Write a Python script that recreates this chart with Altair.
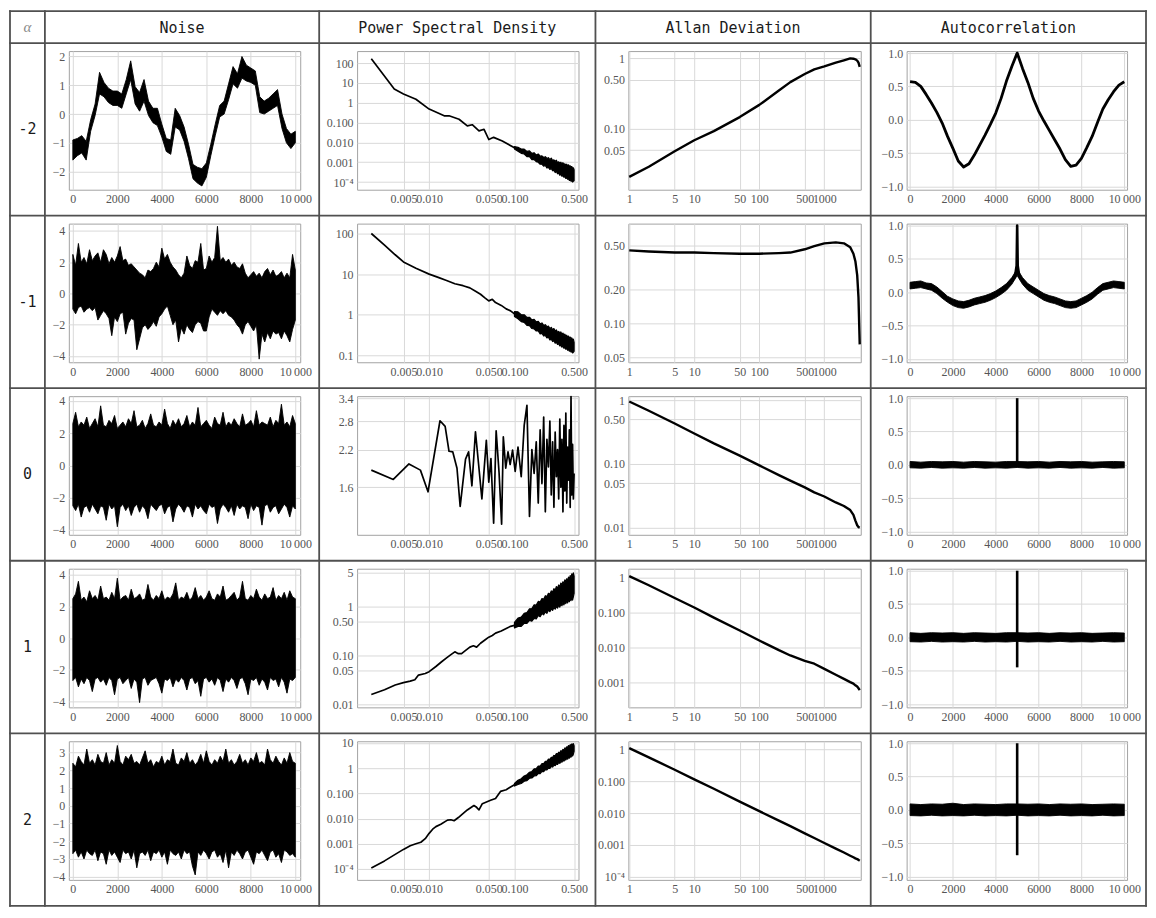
import altair as alt
import pandas as pd

# ======================= DATA =======================
# ---- Noise: min / max envelope of the dense trace ----
noise_t1 = list(range(0, 10001, 200))
noise1_hi = [-0.9, -0.85, -0.75, -0.95, -0.2, 0.35, 1.45, 1.1, 0.9, 0.8, 0.8,
             0.7, 1.2, 1.85, 0.95, 0.75, 1.2, 0.45, 0.2, 0.2, -0.35,
             -0.85, -0.9, 0.2, -0.05, -0.45, -1.05, -1.75, -1.85, -1.9, -1.7,
             -1.05, -0.35, 0.3, 0.45, 1.05, 1.65, 1.4, 2.0, 1.7, 1.6,
             1.5, 0.6, 0.45, 0.55, 0.7, 0.85, 0.0, -0.5, -0.7, -0.6]
noise1_lo = [-1.6, -1.45, -1.35, -1.6, -0.6, -0.05, 0.7, 0.6, 0.4, 0.3, 0.3,
             0.2, 0.7, 1.2, 0.35, 0.1, 0.45, -0.05, -0.3, -0.4, -0.8,
             -1.3, -1.4, -0.45, -0.55, -0.95, -1.55, -2.25, -2.4, -2.5, -2.2,
             -1.45, -0.75, -0.1, 0.0, 0.5, 1.05, 0.9, 1.25, 1.15, 1.1,
             1.0, 0.05, 0.0, 0.1, 0.2, 0.3, -0.5, -1.0, -1.2, -1.0]
noise_t = list(range(0, 10001, 125))
noise2_hi = [2.5, 1.8, 3.2, 2.0, 2.3, 1.9, 2.8, 2.1, 2.4, 2.6,
             2.0, 2.8, 2.5, 1.9, 2.3, 2.0, 2.4, 3.0, 2.1, 2.2,
             1.8, 1.9, 1.7, 1.5, 1.3, 1.2, 1.0, 1.5, 1.4, 1.6,
             2.0, 1.7, 2.9, 2.2, 2.5, 2.0, 1.7, 1.5, 1.2, 1.0,
             1.3, 2.4, 1.8, 1.6, 2.1, 2.0, 3.2, 1.5, 1.6, 2.4,
             2.0, 2.3, 4.3, 2.1, 2.3, 2.0, 2.2, 1.8, 2.0, 1.7,
             1.6, 1.9, 1.3, 1.0, 1.2, 1.4, 1.1, 1.3, 1.0, 1.4,
             1.6, 1.2, 1.5, 1.1, 1.2, 1.4, 1.0, 1.3, 1.0, 2.5, 1.5]
noise2_lo = [-1.0, -1.3, -0.9, -0.8, -1.2, -1.0, -0.9, -1.1, -0.9, -1.7,
             -1.4, -1.1, -1.3, -1.6, -2.7, -1.5, -1.8, -1.3, -1.2, -2.6,
             -1.9, -1.6, -1.7, -3.6, -2.9, -2.2, -2.0, -2.3, -2.1, -1.8,
             -2.1, -1.5, -1.3, -1.0, -0.8, -1.4, -2.0, -1.7, -3.1, -2.2,
             -2.6, -2.0, -2.3, -2.5, -2.0, -1.8, -1.9, -2.4, -2.4, -1.5,
             -1.0, -1.2, -1.4, -1.1, -1.3, -1.1, -1.4, -1.5, -1.7, -2.0,
             -2.2, -2.6, -2.0, -1.8, -2.1, -2.4, -2.0, -4.2, -2.6, -3.1,
             -2.5, -2.9, -2.4, -2.6, -2.5, -2.9, -2.4, -2.7, -3.1, -2.3, -1.7]
noise3_hi = [2.6, 3.3, 2.4, 2.7, 2.5, 3.0, 2.3, 2.6, 2.9, 2.4,
             3.7, 2.5, 2.4, 2.8, 2.6, 3.1, 2.3, 2.5, 2.7, 2.4,
             2.9, 2.6, 3.4, 2.4, 2.5, 2.8, 2.3, 2.6, 3.2, 2.5,
             2.4, 2.7, 2.5, 3.5, 2.6, 2.3, 2.8, 2.5, 2.9, 2.4,
             2.6, 3.1, 2.4, 2.7, 2.5, 3.6, 2.4, 2.6, 2.8, 2.5,
             2.3, 3.0, 2.6, 2.5, 3.3, 2.4, 2.7, 2.5, 2.9, 2.6,
             2.4, 3.2, 2.5, 2.6, 2.8, 2.4, 3.4, 2.5, 2.7, 2.6,
             2.5, 3.0, 2.4, 2.8, 2.6, 3.8, 2.5, 2.7, 2.4, 3.1, 2.6]
noise3_lo = [-2.5, -2.8, -2.4, -3.2, -2.6, -2.5, -2.9, -2.4, -2.7, -3.0,
             -2.5, -2.6, -3.4, -2.4, -2.7, -2.5, -3.8, -2.6, -2.4, -2.8,
             -2.5, -3.1, -2.6, -2.4, -2.9, -2.5, -2.7, -3.3, -2.4, -2.6,
             -2.8, -2.5, -2.4, -3.0, -2.6, -2.5, -3.5, -2.7, -2.4, -2.6,
             -2.9, -2.5, -2.6, -3.2, -2.4, -2.7, -2.5, -2.8, -3.0, -2.4,
             -2.6, -2.5, -3.6, -2.7, -2.4, -2.6, -2.9, -2.5, -3.1, -2.4,
             -2.7, -2.5, -2.6, -3.3, -2.4, -2.8, -2.5, -2.6, -3.7, -2.5,
             -2.4, -2.9, -2.6, -2.5, -3.0, -2.7, -2.4, -2.6, -3.2, -2.5, -2.7]
noise4_hi = [2.5, 2.8, 3.6, 2.4, 2.6, 2.3, 3.0, 2.5, 2.7, 2.4,
             3.3, 2.5, 2.6, 2.4, 2.9, 2.5, 3.8, 2.4, 2.6, 2.7,
             2.4, 3.1, 2.5, 2.6, 2.8, 2.4, 2.5, 3.4, 2.6, 2.4,
             2.7, 2.5, 3.0, 2.4, 2.6, 2.5, 2.8, 3.5, 2.4, 2.6,
             2.5, 2.9, 2.4, 2.6, 3.2, 2.5, 2.7, 2.4, 2.6, 3.0,
             2.5, 2.4, 2.8, 2.6, 3.3, 2.4, 2.5, 2.7, 2.9, 2.4,
             2.6, 3.6, 2.5, 2.4, 2.7, 2.5, 3.1, 2.6, 2.4, 2.8,
             2.5, 2.6, 3.2, 2.4, 2.7, 2.5, 2.9, 2.4, 3.0, 2.6, 2.5]
noise4_lo = [-2.7, -2.5, -3.1, -2.6, -2.9, -2.5, -2.7, -3.4, -2.6, -2.5,
             -2.8, -2.6, -3.0, -2.5, -2.7, -3.6, -2.6, -2.5, -2.9, -2.7,
             -2.5, -3.2, -2.6, -2.8, -4.1, -2.6, -2.5, -3.0, -2.7, -2.6,
             -2.5, -2.9, -3.5, -2.6, -2.7, -2.5, -3.1, -2.6, -2.8, -2.5,
             -2.7, -3.3, -2.6, -2.5, -2.9, -2.7, -3.7, -2.6, -2.5, -2.8,
             -2.6, -3.0, -2.5, -2.7, -3.4, -2.6, -2.8, -2.5, -2.7, -3.2,
             -2.6, -2.5, -2.9, -3.6, -2.6, -2.7, -2.5, -3.0, -2.6, -2.8,
             -3.3, -2.5, -2.7, -2.6, -3.1, -2.5, -2.8, -3.5, -2.6, -2.7, -2.5]
noise5_hi = [2.4, 2.2, 2.8, 2.5, 2.3, 3.2, 2.4, 2.6, 2.3, 2.9,
             2.5, 2.4, 3.0, 2.3, 2.6, 2.4, 3.4, 2.5, 2.3, 2.8,
             2.6, 2.9, 2.4, 2.5, 2.3, 2.7, 3.1, 2.4, 2.6, 2.2,
             2.5, 2.4, 2.8, 2.3, 2.6, 2.5, 3.2, 2.4, 2.3, 2.7,
             2.5, 3.0, 2.4, 2.6, 2.3, 2.5, 2.9, 2.4, 3.1, 2.5,
             2.3, 2.6, 2.4, 2.8, 2.5, 3.2, 2.4, 2.6, 2.3, 2.5,
             2.9, 2.4, 2.6, 2.3, 2.7, 2.5, 3.0, 2.4, 2.5, 2.3,
             3.2, 2.6, 2.4, 2.8, 2.5, 2.3, 2.7, 2.4, 3.0, 2.5, 2.4]
noise5_lo = [-2.7, -2.5, -2.9, -2.6, -3.0, -2.5, -2.7, -2.8, -2.5, -3.1,
             -2.6, -2.7, -3.3, -2.5, -2.8, -2.6, -2.9, -3.2, -2.5, -2.7,
             -2.6, -3.0, -2.5, -3.5, -2.7, -2.6, -2.8, -2.5, -3.1, -2.6,
             -2.7, -2.5, -2.9, -2.6, -3.3, -2.5, -2.7, -2.8, -2.6, -3.0,
             -2.5, -2.7, -2.6, -3.4, -3.9, -2.6, -2.8, -2.5, -2.7, -3.0,
             -2.6, -2.5, -2.9, -2.7, -3.2, -2.5, -3.5, -2.6, -2.8, -2.5,
             -2.7, -3.0, -2.6, -2.5, -2.9, -3.3, -2.6, -2.7, -2.5, -2.8,
             -3.1, -2.6, -2.5, -2.9, -2.7, -3.2, -2.5, -2.6, -2.8, -2.7, -2.9]
noise_xticks = [0, 2000, 4000, 6000, 8000, 10000]
noise_xlabels = ["0", "2000", "4000", "6000", "8000", "10\u2009000"]

# ---- Power spectral density ----
# low-frequency curves
psd1_f = [0.0021, 0.0039, 0.005, 0.007, 0.01, 0.015, 0.0171, 0.0224, 0.028, 0.032,
          0.0384, 0.044, 0.05, 0.057, 0.072, 0.1]
psd1_v = [166, 5.0, 2.8, 1.5, 0.48, 0.22, 0.22, 0.148, 0.068, 0.078,
          0.038, 0.046, 0.014, 0.018, 0.0117, 0.0054]
psd2_f = [0.0021, 0.003, 0.004, 0.005, 0.007, 0.01, 0.013, 0.016, 0.02, 0.025, 0.03,
          0.035, 0.04, 0.045, 0.05, 0.055, 0.06, 0.07, 0.08, 0.09, 0.1]
psd2_v = [100, 52, 30, 20, 14, 10, 8.2, 7.0, 5.8, 5.2, 4.6,
          3.8, 3.2, 2.6, 2.2, 2.4, 2.0, 1.7, 1.4, 1.25, 1.05]
psd3_f = [0.0021, 0.0038, 0.0058, 0.0079, 0.0097, 0.0134, 0.0154, 0.0171, 0.0189, 0.0212,
          0.0231, 0.0267, 0.029, 0.0317, 0.0349, 0.038, 0.0415, 0.0468, 0.05, 0.053,
          0.057, 0.061, 0.066, 0.0707, 0.074, 0.079, 0.084, 0.089, 0.095, 0.102,
          0.11, 0.12, 0.13, 0.14, 0.15, 0.16, 0.17, 0.18, 0.19, 0.20,
          0.21, 0.22, 0.23, 0.24, 0.25, 0.26, 0.27, 0.28, 0.29, 0.30,
          0.31, 0.32, 0.33, 0.34, 0.35, 0.36, 0.37, 0.38, 0.39, 0.40,
          0.41, 0.42, 0.43, 0.44, 0.45, 0.46, 0.47, 0.48, 0.49, 0.50]
psd3_v = [1.85, 1.71, 1.95, 1.85, 1.54, 2.81, 2.68, 2.17, 2.16, 1.88,
          1.36, 2.03, 2.16, 1.62, 2.56, 1.94, 1.45, 2.38, 1.67, 2.04,
          1.18, 2.58, 1.81, 1.17, 2.45, 1.88, 2.16, 1.94, 2.19, 1.83,
          2.25, 1.75, 2.7, 3.2, 1.25, 2.2, 1.8, 2.35, 1.4, 2.6,
          1.65, 2.9, 1.3, 2.4, 1.9, 2.8, 1.5, 2.35, 1.35, 2.55,
          1.75, 2.2, 1.45, 2.85, 1.6, 2.4, 1.3, 2.7, 1.55, 3.0,
          1.4, 2.25, 1.7, 2.6, 1.35, 3.45, 1.5, 2.3, 1.45, 1.8]
psd4_f = [0.0021, 0.003, 0.004, 0.005, 0.006, 0.0068, 0.0075, 0.009, 0.01, 0.012,
          0.014, 0.016, 0.018, 0.02, 0.022, 0.024, 0.027, 0.03, 0.033, 0.036,
          0.04, 0.045, 0.05, 0.055, 0.06, 0.07, 0.08, 0.09, 0.1]
psd4_v = [0.016, 0.02, 0.025, 0.028, 0.03, 0.032, 0.04, 0.043, 0.047, 0.06,
          0.075, 0.09, 0.105, 0.12, 0.11, 0.11, 0.13, 0.15, 0.16, 0.15,
          0.18, 0.21, 0.24, 0.26, 0.29, 0.32, 0.36, 0.4, 0.42]
psd5_f = [0.0021, 0.003, 0.004, 0.005, 0.006, 0.007, 0.008, 0.009, 0.01, 0.011,
          0.012, 0.0137, 0.0164, 0.018, 0.0196, 0.022, 0.0245, 0.028, 0.0335, 0.036,
          0.0384, 0.042, 0.0525, 0.06, 0.0686, 0.08, 0.09, 0.1]
psd5_v = [1.1e-4, 2.1e-4, 3.8e-4, 6e-4, 8.4e-4, 1.0e-3, 1.15e-3, 1.6e-3, 2.6e-3, 3.8e-3,
          4.8e-3, 6e-3, 8.7e-3, 9e-3, 8.2e-3, 0.011, 0.015, 0.022, 0.033, 0.028,
          0.022, 0.039, 0.053, 0.063, 0.12, 0.14, 0.18, 0.22]
# high-frequency scatter band (min / max), 0.10 ... 0.50
band_f = [0.10, 0.11, 0.12, 0.13, 0.14, 0.15, 0.16, 0.17, 0.18, 0.19, 0.20,
          0.21, 0.22, 0.23, 0.24, 0.25, 0.26, 0.27, 0.28, 0.29, 0.30,
          0.31, 0.32, 0.33, 0.34, 0.35, 0.36, 0.37, 0.38, 0.39, 0.40,
          0.41, 0.42, 0.43, 0.44, 0.45, 0.46, 0.47, 0.48, 0.49, 0.50]
psd1_hi = [0.0062, 0.0056, 0.0046, 0.0046, 0.0035, 0.0037, 0.0028, 0.003, 0.0023, 0.0026, 0.002,
           0.0021, 0.00174, 0.0019, 0.00155, 0.0017, 0.00135, 0.0016, 0.00123, 0.00132, 0.0011,
           0.00126, 0.00093, 0.00105, 0.00089, 0.001, 0.00081, 0.00095, 0.00076, 0.00083, 0.00072,
           0.00079, 0.00066, 0.00074, 0.0006, 0.00066, 0.00058, 0.0006, 0.0005, 0.00052, 0.00042]
psd1_lo = [0.0047, 0.0036, 0.0028, 0.0026, 0.0019, 0.0019, 0.00135, 0.00135, 0.00107, 0.001, 0.00079,
           0.00079, 0.00063, 0.00068, 0.00051, 0.00055, 0.00043, 0.00048, 0.00037, 0.00039, 0.0003,
           0.00034, 0.00026, 0.00028, 0.00022, 0.00025, 0.000195, 0.00021, 0.000174, 0.00019, 0.000151,
           0.000166, 0.000138, 0.000148, 0.00012, 0.000132, 0.00011, 0.000117, 0.0001, 0.00011, 0.000117]
psd2_hi = [1.2, 1.18, 1.0, 1.0, 0.86, 0.87, 0.75, 0.77, 0.67, 0.69, 0.6,
           0.63, 0.55, 0.57, 0.51, 0.53, 0.46, 0.49, 0.43, 0.46, 0.40,
           0.425, 0.37, 0.39, 0.35, 0.38, 0.33, 0.355, 0.31, 0.334, 0.296,
           0.315, 0.28, 0.3, 0.265, 0.284, 0.252, 0.27, 0.24, 0.252, 0.21]
psd2_lo = [0.91, 0.8, 0.68, 0.65, 0.55, 0.54, 0.46, 0.45, 0.40, 0.40, 0.34,
           0.35, 0.30, 0.31, 0.27, 0.28, 0.24, 0.25, 0.22, 0.23, 0.20,
           0.21, 0.187, 0.193, 0.171, 0.181, 0.16, 0.17, 0.15, 0.156, 0.142,
           0.148, 0.134, 0.14, 0.127, 0.133, 0.121, 0.126, 0.115, 0.12, 0.126]
psd4_hi = [0.48, 0.59, 0.62, 0.74, 0.77, 0.92, 0.93, 1.11, 1.09, 1.3, 1.26,
           1.49, 1.44, 1.7, 1.63, 1.91, 1.82, 2.14, 2.04, 2.38, 2.2,
           2.63, 2.43, 2.83, 2.6, 3.1, 2.85, 3.3, 3.04, 3.6, 3.3,
           3.8, 3.5, 4.1, 3.7, 4.4, 4.0, 4.8, 4.3, 5.0, 4.3]
psd4_lo = [0.37, 0.40, 0.40, 0.46, 0.46, 0.53, 0.51, 0.58, 0.57, 0.67, 0.63,
           0.73, 0.69, 0.79, 0.74, 0.86, 0.8, 0.91, 0.85, 0.97, 0.9,
           1.02, 0.95, 1.1, 0.99, 1.15, 1.06, 1.23, 1.1, 1.28, 1.17,
           1.35, 1.21, 1.43, 1.28, 1.47, 1.35, 1.55, 1.38, 1.62, 1.9]
psd5_hi = [0.25, 0.33, 0.38, 0.49, 0.55, 0.69, 0.74, 0.94, 0.96, 1.21, 1.22,
           1.51, 1.52, 1.87, 1.86, 2.27, 2.24, 2.71, 2.67, 3.2, 3.08,
           3.8, 3.6, 4.3, 4.06, 4.95, 4.68, 5.56, 5.24, 6.34, 5.94,
           7.03, 6.58, 7.9, 7.2, 8.5, 7.9, 9.1, 8.45, 9.4, 7.8]
psd5_lo = [0.195, 0.226, 0.247, 0.305, 0.32, 0.4, 0.41, 0.49, 0.5, 0.62, 0.61,
           0.74, 0.73, 0.87, 0.85, 1.01, 0.98, 1.16, 1.11, 1.31, 1.25,
           1.47, 1.4, 1.67, 1.55, 1.84, 1.74, 2.07, 1.9, 2.25, 2.11,
           2.49, 2.28, 2.74, 2.5, 2.94, 2.75, 3.2, 3.07, 3.6, 4.7]
psd_xticks = [0.005, 0.01, 0.05, 0.1, 0.5]
psd_xlabels = ["0.005", "0.010", "0.050", "0.100", "0.500"]

# ---- Allan deviation ----
allan_tau = [1, 2, 5, 10, 20, 50, 100, 200, 300, 500,
             700, 1000, 1500, 2000, 2500, 2800, 3000, 3200, 3350, 3500]
allan1 = [0.0208, 0.029, 0.048, 0.069, 0.093, 0.147, 0.219, 0.35, 0.46, 0.6,
          0.7, 0.77, 0.87, 0.94, 1.0, 0.99, 0.97, 0.93, 0.87, 0.76]
allan2 = [0.45, 0.44, 0.43, 0.43, 0.425, 0.42, 0.42, 0.425, 0.43, 0.46,
          0.49, 0.52, 0.53, 0.52, 0.48, 0.42, 0.36, 0.27, 0.17, 0.065]
allan3 = [0.95, 0.68, 0.43, 0.30, 0.21, 0.135, 0.095, 0.067, 0.055, 0.043,
          0.036, 0.031, 0.025, 0.022, 0.019, 0.016, 0.013, 0.011, 0.0103, 0.0101]
allan4 = [1.1, 0.6, 0.26, 0.14, 0.072, 0.031, 0.016, 0.0085, 0.006, 0.0042,
          0.0035, 0.0025, 0.0017, 0.0013, 0.00105, 0.00095, 0.00085, 0.00078, 0.0007, 0.00062]
allan5 = [1.1, 0.56, 0.23, 0.115, 0.058, 0.023, 0.0115, 0.0058, 0.0039, 0.0023,
          0.00165, 0.00115, 0.00077, 0.00058, 0.00046, 0.00041, 0.00038, 0.00036, 0.00034, 0.00032]
allan_xticks = [1, 5, 10, 50, 100, 500, 1000]
allan_xlabels = ["1", "5", "10", "50", "100", "500", "1000"]

# ---- Autocorrelation ----
acf_t = list(range(0, 10001, 250))
acf1 = [0.57, 0.56, 0.5, 0.38, 0.25, 0.11, -0.05, -0.25, -0.43, -0.62, -0.71,
        -0.66, -0.53, -0.38, -0.23, -0.07, 0.1, 0.32, 0.58, 0.8, 1.0,
        0.77, 0.56, 0.32, 0.13, -0.02, -0.16, -0.3, -0.44, -0.6, -0.7,
        -0.68, -0.58, -0.42, -0.25, -0.04, 0.16, 0.3, 0.42, 0.52, 0.57]
acf2_hi = [0.15, 0.16, 0.17, 0.14, 0.13, 0.08, 0.01, -0.06, -0.10, -0.13, -0.14,
           -0.12, -0.09, -0.07, -0.05, -0.02, 0.02, 0.07, 0.13, 0.22, 0.35,
           0.22, 0.13, 0.08, 0.03, -0.02, -0.05, -0.07, -0.10, -0.13, -0.14,
           -0.13, -0.09, -0.05, 0.0, 0.07, 0.13, 0.15, 0.17, 0.16, 0.15]
acf2_lo = [0.05, 0.06, 0.07, 0.05, 0.03, -0.02, -0.09, -0.15, -0.20, -0.23, -0.24,
           -0.22, -0.19, -0.17, -0.15, -0.12, -0.08, -0.03, 0.03, 0.12, 0.25,
           0.12, 0.03, -0.02, -0.07, -0.12, -0.15, -0.17, -0.20, -0.23, -0.24,
           -0.23, -0.19, -0.15, -0.10, -0.03, 0.03, 0.05, 0.07, 0.06, 0.05]
acf2_spike_t = [4750, 4900, 4975, 5000, 5025, 5100, 5250]
acf2_spike = [0.17, 0.24, 0.4, 1.0, 0.4, 0.24, 0.17]
acfw_t = list(range(0, 10001, 500))
acf3_hi = [0.05, 0.04, 0.05, 0.045, 0.05, 0.04, 0.05, 0.045, 0.04, 0.05, 0.05,
           0.045, 0.05, 0.04, 0.05, 0.045, 0.05, 0.04, 0.045, 0.05, 0.045]
acf3_lo = [-0.045, -0.05, -0.04, -0.05, -0.045, -0.05, -0.04, -0.05, -0.045, -0.05, -0.04,
           -0.05, -0.045, -0.05, -0.04, -0.05, -0.045, -0.05, -0.04, -0.05, -0.045]
acf4_hi = [0.07, 0.06, 0.07, 0.065, 0.07, 0.06, 0.07, 0.065, 0.06, 0.07, 0.07,
           0.065, 0.07, 0.06, 0.07, 0.065, 0.07, 0.06, 0.065, 0.07, 0.065]
acf4_lo = [-0.065, -0.07, -0.06, -0.07, -0.065, -0.07, -0.06, -0.07, -0.065, -0.07, -0.06,
           -0.07, -0.065, -0.07, -0.06, -0.07, -0.065, -0.07, -0.06, -0.07, -0.065]
acf5_hi = [0.09, 0.08, 0.09, 0.085, 0.1, 0.08, 0.09, 0.085, 0.08, 0.09, 0.09,
           0.085, 0.09, 0.08, 0.09, 0.085, 0.09, 0.08, 0.085, 0.09, 0.085]
acf5_lo = [-0.085, -0.09, -0.08, -0.09, -0.085, -0.09, -0.08, -0.09, -0.085, -0.09, -0.08,
           -0.09, -0.085, -0.09, -0.08, -0.09, -0.085, -0.09, -0.08, -0.09, -0.085]
spike_t = [5000, 5000]
acf3_spike = [0.0, 1.0]
acf4_spike = [-0.45, 1.0]
acf5_spike = [-0.68, 1.0]
acf_xticks = [0, 2000, 4000, 6000, 8000, 10000]
acf_xlabels = ["0", "2000", "4000", "6000", "8000", "10\u2009000"]
acf_yticks = [-1.0, -0.5, 0.0, 0.5, 1.0]

# ---- table text ----
headers = ["Noise", "Power Spectral Density", "Allan Deviation", "Autocorrelation"]
alphas = ["-2", "-1", "0", "1", "2"]

# ======================= LAYOUT / STYLE =======================
TABLE_X = [0, 35, 310, 587, 863, 1139]
TABLE_Y = [0, 32, 205, 378, 551, 724, 897]
PLOT_X = [59, 348, 620, 899]
PLOT_W = [232, 222, 233, 221]
PLOT_DY = 8
PLOT_H = 139
PITCH = 173
LINE = "#505050"
FRAME = "#a3a3a3"
MONO = "DejaVu Sans Mono"

dummy = pd.DataFrame({"d": [0]})


def label_expr(vals, labels):
    expr = "''"
    for v, s in reversed(list(zip(vals, labels))):
        expr = "abs(datum.value - (%r)) <= %r ? '%s' : %s" % (v, abs(v) * 1e-6, s, expr)
    return expr


def axis(vals, labels=None, fmt=None):
    kw = dict(values=vals, title=None, grid=True, labelOverlap=False,
              labelFlush=False, labelBound=False)
    if labels is not None:
        kw["labelExpr"] = label_expr(vals, labels)
    if fmt is not None:
        kw["format"] = fmt
    return alt.Axis(**kw)


def noise_layers(t, hi, lo, ydom, yticks):
    df = pd.DataFrame({"t": t, "hi": hi, "lo": lo})
    return [alt.Chart(df).mark_area(fill="black", stroke="black", strokeWidth=0.9,
                                    strokeJoin="round").encode(
        x=alt.X("t:Q", scale=alt.Scale(domain=[-180, 10220], nice=False, zero=False),
                axis=axis(noise_xticks, noise_xlabels)),
        y=alt.Y("lo:Q", scale=alt.Scale(domain=ydom, nice=False, zero=False),
                axis=axis(yticks, fmt="d")),
        y2="hi:Q")]


def psd_layers(f, v, ydom, yticks, ylabels, hi=None, lo=None):
    xs = dict(scale=alt.Scale(type="log", domain=[0.00143, 0.563], nice=False),
              axis=axis(psd_xticks, psd_xlabels))
    ys = dict(scale=alt.Scale(type="log", domain=ydom, nice=False), axis=axis(yticks, ylabels))
    out = [alt.Chart(pd.DataFrame({"f": f, "p": v})).mark_line(
        color="black", strokeWidth=1.7, strokeJoin="round").encode(
        x=alt.X("f:Q", **xs), y=alt.Y("p:Q", **ys))]
    if hi is not None:
        out.append(alt.Chart(pd.DataFrame({"f": band_f, "hi": hi, "lo": lo})).mark_area(
            fill="black", stroke="black", strokeWidth=1.2, strokeJoin="round").encode(
            x=alt.X("f:Q", **xs), y=alt.Y("lo:Q", **ys), y2="hi:Q"))
    return out


def allan_layers(v, ydom, yticks, ylabels):
    df = pd.DataFrame({"tau": allan_tau, "a": v})
    return [alt.Chart(df).mark_line(color="black", strokeWidth=2.4, strokeJoin="round").encode(
        x=alt.X("tau:Q", scale=alt.Scale(type="log", domain=[0.97, 3630], nice=False),
                axis=axis(allan_xticks, allan_xlabels)),
        y=alt.Y("a:Q", scale=alt.Scale(type="log", domain=ydom, nice=False),
                axis=axis(yticks, ylabels)))]


ACF_X = dict(scale=alt.Scale(domain=[-160, 10130], nice=False, zero=False))
ACF_Y = dict(scale=alt.Scale(domain=[-1.05, 1.03], nice=False, zero=False))


def acf_x():
    return alt.X("t:Q", axis=axis(acf_xticks, acf_xlabels), **ACF_X)


def acf_line_layers(v):
    df = pd.DataFrame({"t": acf_t, "c": v})
    return [alt.Chart(df).mark_line(color="black", strokeWidth=2.8, strokeJoin="round").encode(
        x=acf_x(), y=alt.Y("c:Q", axis=axis(acf_yticks, fmt=".1f"), **ACF_Y))]


def acf_band_layers(t, hi, lo, st, sv):
    band = alt.Chart(pd.DataFrame({"t": t, "hi": hi, "lo": lo})).mark_area(
        fill="black", stroke="black", strokeWidth=0.9).encode(
        x=acf_x(), y=alt.Y("lo:Q", axis=axis(acf_yticks, fmt=".1f"), **ACF_Y), y2="hi:Q")
    spike = alt.Chart(pd.DataFrame({"t": st, "c": sv, "i": list(range(len(st)))})).mark_line(
        color="black", strokeWidth=2.6, strokeJoin="round").encode(
        x=acf_x(), y=alt.Y("c:Q", axis=axis(acf_yticks, fmt=".1f"), **ACF_Y), order="i:Q")
    return [band, spike]


def decor_layers():
    """Table grid and table texts, drawn from the first plot cell."""
    ox, oy = PLOT_X[0], TABLE_Y[1] + PLOT_DY
    out = []
    for gx in TABLE_X:
        out.append(alt.Chart(dummy).mark_rule(color=LINE, strokeWidth=1.8, strokeCap="square").encode(
            x=alt.value(gx - ox), y=alt.value(TABLE_Y[0] - oy), y2=alt.value(TABLE_Y[-1] - oy)))
    for gy in TABLE_Y:
        out.append(alt.Chart(dummy).mark_rule(color=LINE, strokeWidth=1.8, strokeCap="square").encode(
            y=alt.value(gy - oy), x=alt.value(TABLE_X[0] - ox), x2=alt.value(TABLE_X[-1] - ox)))
    hy = (TABLE_Y[0] + TABLE_Y[1]) / 2 - oy
    out.append(alt.Chart(dummy).mark_text(font="Liberation Serif", fontStyle="italic", fontSize=15,
                                          color="#8a8a8a", align="center", baseline="middle").encode(
        x=alt.value((TABLE_X[0] + TABLE_X[1]) / 2 - ox), y=alt.value(hy), text=alt.value("\u03b1")))
    for i, h in enumerate(headers):
        out.append(alt.Chart(dummy).mark_text(font=MONO, fontSize=15, color="#1a1a1a",
                                              align="center", baseline="middle").encode(
            x=alt.value((TABLE_X[i + 1] + TABLE_X[i + 2]) / 2 - ox), y=alt.value(hy + 1),
            text=alt.value(h)))
    for r, a in enumerate(alphas):
        out.append(alt.Chart(dummy).mark_text(font=MONO, fontSize=15, color="#1a1a1a",
                                              align="center", baseline="middle").encode(
            x=alt.value((TABLE_X[0] + TABLE_X[1]) / 2 - ox),
            y=alt.value((TABLE_Y[r + 1] + TABLE_Y[r + 2]) / 2 - oy),
            text=alt.value(a)))
    return out


SUP4 = "10\u207b\u2074"
rows = [
    [noise_layers(noise_t1, noise1_hi, noise1_lo, [-2.63, 2.19], [-2, -1, 0, 1, 2]),
     psd_layers(psd1_f, psd1_v, [4.1e-5, 407], [1e-4, 0.001, 0.01, 0.1, 1, 10, 100],
                [SUP4, "0.001", "0.010", "0.100", "1", "10", "100"], psd1_hi, psd1_lo),
     allan_layers(allan1, [0.0137, 1.27], [0.05, 0.1, 0.5, 1], ["0.05", "0.10", "0.50", "1"]),
     acf_line_layers(acf1)],
    [noise_layers(noise_t, noise2_hi, noise2_lo, [-4.4, 4.47], [-4, -2, 0, 2, 4]),
     psd_layers(psd2_f, psd2_v, [0.068, 175], [0.1, 1, 10, 100], ["0.1", "1", "10", "100"],
                psd2_hi, psd2_lo),
     allan_layers(allan2, [0.045, 0.78], [0.05, 0.1, 0.2, 0.5], ["0.05", "0.10", "0.20", "0.50"]),
     acf_band_layers(acf_t, acf2_hi, acf2_lo, acf2_spike_t, acf2_spike)],
    [noise_layers(noise_t, noise3_hi, noise3_lo, [-4.3, 4.3], [-4, -2, 0, 2, 4]),
     psd_layers(psd3_f, psd3_v, [1.07, 3.46], [1.6, 2.2, 2.8, 3.4], ["1.6", "2.2", "2.8", "3.4"]),
     allan_layers(allan3, [0.0078, 1.15], [0.01, 0.05, 0.1, 0.5, 1], ["0.01", "0.05", "0.10", "0.50", "1"]),
     acf_band_layers(acfw_t, acf3_hi, acf3_lo, spike_t, acf3_spike)],
    [noise_layers(noise_t, noise4_hi, noise4_lo, [-4.4, 4.4], [-4, -2, 0, 2, 4]),
     psd_layers(psd4_f, psd4_v, [0.0087, 6.1], [0.01, 0.05, 0.1, 0.5, 1, 5],
                ["0.01", "0.05", "0.10", "0.50", "1", "5"], psd4_hi, psd4_lo),
     allan_layers(allan4, [2e-4, 1.78], [0.001, 0.01, 0.1, 1], ["0.001", "0.010", "0.100", "1"]),
     acf_band_layers(acfw_t, acf4_hi, acf4_lo, spike_t, acf4_spike)],
    [noise_layers(noise_t, noise5_hi, noise5_lo, [-4.18, 3.64], [-4, -3, -2, -1, 0, 1, 2, 3]),
     psd_layers(psd5_f, psd5_v, [3.7e-5, 11.7], [1e-4, 0.001, 0.01, 0.1, 1, 10],
                [SUP4, "0.001", "0.010", "0.100", "1", "10"], psd5_hi, psd5_lo),
     allan_layers(allan5, [8e-5, 1.8], [1e-4, 0.001, 0.01, 0.1, 1],
                  [SUP4, "0.001", "0.010", "0.100", "1"]),
     acf_band_layers(acfw_t, acf5_hi, acf5_lo, spike_t, acf5_spike)],
]

# grid of plots and spacer cells
col_w = [PLOT_X[0]]
for c in range(4):
    col_w.append(PLOT_W[c])
    if c < 3:
        col_w.append(PLOT_X[c + 1] - PLOT_X[c] - PLOT_W[c])
row_h = [TABLE_Y[1] + PLOT_DY]
for r in range(5):
    row_h.append(PLOT_H)
    if r < 4:
        row_h.append(PITCH - PLOT_H)


def spacer(w, h):
    return alt.Chart(dummy).mark_point(opacity=0).properties(width=w, height=h)


items = []
for gr, h in enumerate(row_h):
    for gc, w in enumerate(col_w):
        if gr % 2 == 1 and gc % 2 == 1:
            r, c = (gr - 1) // 2, (gc - 1) // 2
            layers = list(rows[r][c])
            if r == 0 and c == 0:
                layers = layers + decor_layers()
            items.append(alt.layer(*layers).properties(
                width=w, height=h, view=alt.ViewBackground(stroke=FRAME, strokeWidth=1)))
        else:
            items.append(spacer(w, h))

chart = alt.concat(*items, columns=len(col_w), spacing=0, bounds="flush", align="each").properties(
    padding=0, background="white"
).configure_view(stroke="transparent").configure_axis(
    domain=False, ticks=False, tickSize=0, gridColor="#d9d9d9", gridWidth=1,
    labelFont="Liberation Serif", labelFontSize=12, labelColor="#555555", labelPadding=4
)

chart.save("out.html", embed_options={"renderer": "svg", "actions": False})
